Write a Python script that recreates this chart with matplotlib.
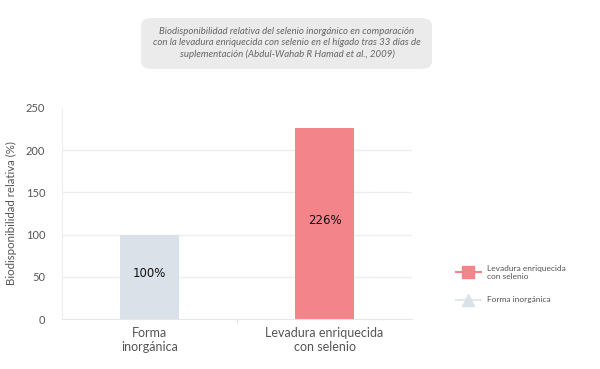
import matplotlib
matplotlib.use('Agg')
import matplotlib.pyplot as plt
from matplotlib.lines import Line2D
from matplotlib.patches import FancyBboxPatch

plt.rcParams['font.family'] = ['Lato', 'DejaVu Sans']

categories = ['Forma\ninorgánica', 'Levadura enriquecida\ncon selenio']
values = [100, 226]
labels = ['100%', '226%']
colors = ['#dae1e8', '#f2848a']
legend_labels = ['Levadura enriquecida\ncon selenio', 'Forma inorgánica']
title = ('Biodisponibilidad relativa del selenio inorgánico en comparación\n'
         'con la levadura enriquecida con selenio en el hígado tras 33 días de\n'
         'suplementación (Abdul-Wahab R Hamad et al., 2009)')

fig = plt.figure(figsize=(6, 3.69), dpi=100)
ax = fig.add_axes([62 / 600, 1 - 319 / 369, 350 / 600, 211 / 369])

x = range(len(categories))
ax.bar(x, values, width=0.34, color=colors, zorder=2)
for i, (v, lab) in enumerate(zip(values, labels)):
    ax.text(i, v / 2 + 4, lab, ha='center', va='center', fontsize=8.5,
            color='#111111', family=['DejaVu Sans'], zorder=3)

ax.set_xlim(-0.5, 1.5)
ax.set_ylim(0, 250)
ax.set_yticks([0, 50, 100, 150, 200, 250])
ax.set_xticks(list(x))
ax.set_xticklabels(categories, fontsize=9, color='#555555')
ax.set_xticks([0.5], minor=True)
ax.tick_params(axis='x', which='major', length=0, pad=6)
ax.tick_params(axis='x', which='minor', length=3, color='#dddddd')
ax.tick_params(axis='y', length=0, labelsize=8, colors='#555555', pad=12)
for yv in [50, 100, 150, 200]:
    ax.axhline(yv, color='#eeeeee', lw=1, zorder=1)
for s in ['top', 'right']:
    ax.spines[s].set_visible(False)
ax.spines['left'].set_color('#eeeeee')
ax.spines['bottom'].set_color('#e6e6e6')
ax.set_ylabel('Biodisponibilidad relativa (%)', fontsize=8.3, color='#555555',
              labelpad=6)

# title box
box = FancyBboxPatch((141 / 600, 1 - 69 / 369), 291 / 600, 51 / 369,
                     boxstyle='round,pad=0,rounding_size=0.02',
                     transform=fig.transFigure, facecolor='#ebebeb',
                     edgecolor='none')
fig.patches.append(box)
fig.text(287 / 600, 1 - 43 / 369, title, ha='center', va='center',
         fontsize=6.9, style='italic', color='#666666', linespacing=1.3)

handles = [
    Line2D([], [], color='#f2848a', lw=1.5, marker='s', markersize=9,
           markerfacecolor='#f2848a', markeredgecolor='#f2848a'),
    Line2D([], [], color='#e3e8ee', lw=1.5, marker='^', markersize=9,
           markerfacecolor='#dae1e8', markeredgecolor='#dae1e8'),
]
fig.legend(handles, legend_labels, loc='center left',
           bbox_to_anchor=(448 / 600, 1 - 284 / 369), frameon=False,
           fontsize=6, labelcolor='#555555', handlelength=3,
           labelspacing=2.0)

fig.savefig('out.png', dpi=100)
